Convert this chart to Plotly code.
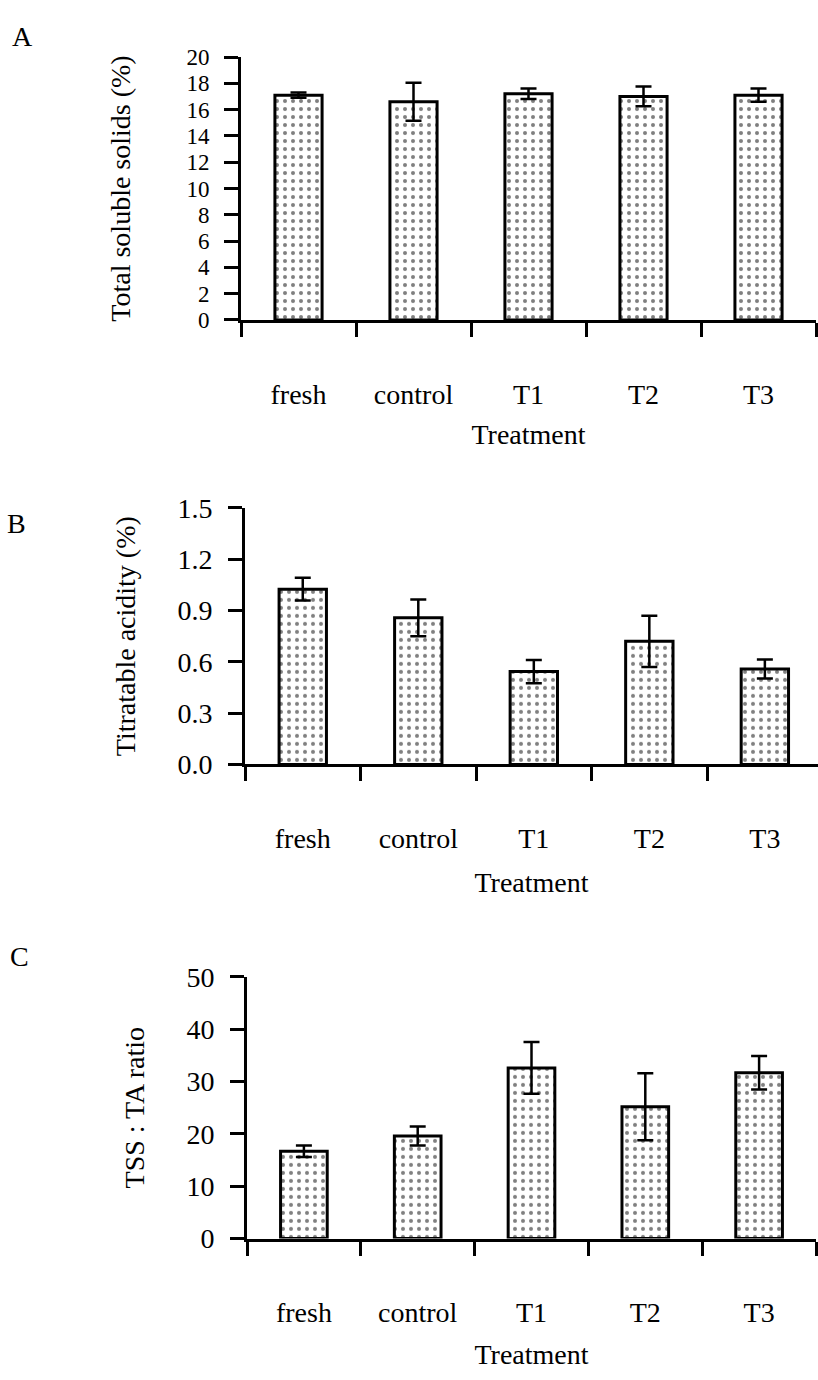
import plotly.graph_objects as go

# Treatments on the x axis
treatments = ["fresh", "control", "T1", "T2", "T3"]

# A: total soluble solids (%)
tss_mean = [17.1, 16.6, 17.2, 17.0, 17.1]
tss_err = [0.2, 1.45, 0.4, 0.75, 0.5]
tss_ticks = [0, 2, 4, 6, 8, 10, 12, 14, 16, 18, 20]

# B: titratable acidity (%)
ta_mean = [1.025, 0.857, 0.543, 0.72, 0.558]
ta_err = [0.066, 0.107, 0.068, 0.15, 0.055]
ta_ticks = [0.0, 0.3, 0.6, 0.9, 1.2, 1.5]

# C: TSS : TA ratio
ratio_mean = [16.7, 19.6, 32.6, 25.2, 31.7]
ratio_err = [1.1, 1.8, 4.95, 6.4, 3.2]
ratio_ticks = [0, 10, 20, 30, 40, 50]

W, H = 818, 1380
FONT = "Liberation Serif, Times New Roman, serif"
FS = 28
TICKLEN = 14

panels = [
    dict(letter="A", mean=tss_mean, err=tss_err, ticks=tss_ticks, fmt="{:d}",
         ylabel="Total soluble solids (%)", xpx=(241, 816), ypx=(312, 43),
         xend=4.5, letter_at=(22, 22), ystand=48, yfs=23, xstand=16),
    dict(letter="B", mean=ta_mean, err=ta_err, ticks=ta_ticks, fmt="{:.1f}",
         ylabel="Titratable acidity (%)", xpx=(245, 818), ypx=(766.7, 504.2),
         xend=4.46, letter_at=(16, 520), ystand=34, yfs=FS, xstand=20),
    dict(letter="C", mean=ratio_mean, err=ratio_err, ticks=ratio_ticks, fmt="{:d}",
         ylabel="TSS : TA ratio", xpx=(247, 816), ypx=(1251.7, 984),
         xend=4.5, letter_at=(19, 963), ystand=34, yfs=FS, xstand=18),
]


def key(kind, n):
    return f"{kind}axis" if n == 1 else f"{kind}axis{n}"


def ref(kind, n):
    return kind if n == 1 else f"{kind}{n}"


fig = go.Figure()
layout = {}
annotations = []
n_cat = len(treatments)
boundaries = [i - 0.5 for i in range(n_cat + 1)]

for i, p in enumerate(panels, start=1):
    j = i + 3  # overlay axes carrying the inner half of each tick
    xdom = [p["xpx"][0] / W, p["xpx"][1] / W]
    ydom = [1 - p["ypx"][0] / H, 1 - p["ypx"][1] / H]
    yrange = [p["ticks"][0], p["ticks"][-1]]
    xrange = [-0.5, p["xend"]]

    fig.add_trace(go.Bar(
        x=treatments, y=p["mean"],
        xaxis=ref("x", i), yaxis=ref("y", i),
        width=0.41,
        marker=dict(
            color="white",
            line=dict(color="black", width=3),
            pattern=dict(shape=".", fgcolor="black", bgcolor="white",
                         size=8, solidity=0.2),
        ),
        error_y=dict(type="data", array=p["err"], visible=True,
                     color="black", thickness=2.5, width=8),
        showlegend=False,
    ))

    layout[key("x", i)] = dict(
        domain=xdom, anchor=ref("y", i), type="category",
        categoryorder="array", categoryarray=treatments, range=xrange,
        showline=True, linewidth=3, linecolor="black",
        ticks="outside", ticklen=TICKLEN, tickwidth=2.5, tickcolor="black",
        tickson="boundaries", ticklabelstandoff=47,
        showgrid=False, zeroline=False,
        tickfont=dict(family=FONT, size=FS, color="black"),
        title=dict(text="Treatment", standoff=p["xstand"],
                   font=dict(family=FONT, size=FS, color="black")),
    )
    layout[key("x", j)] = dict(
        domain=xdom, anchor=ref("y", i), overlaying=ref("x", i),
        range=xrange, tickmode="array", tickvals=boundaries,
        ticks="inside", ticklen=TICKLEN, tickwidth=2.5, tickcolor="black",
        showticklabels=False, showline=False, showgrid=False, zeroline=False,
    )
    layout[key("y", i)] = dict(
        domain=ydom, anchor=ref("x", i), range=yrange,
        tickmode="array", tickvals=p["ticks"],
        ticktext=[p["fmt"].format(t) for t in p["ticks"]],
        showline=True, linewidth=3, linecolor="black",
        ticks="outside", ticklen=TICKLEN, tickwidth=2.5, tickcolor="black",
        ticklabelstandoff=10, showgrid=False, zeroline=False,
        tickfont=dict(family=FONT, size=p["yfs"], color="black"),
        title=dict(text=p["ylabel"], standoff=p["ystand"],
                   font=dict(family=FONT, size=FS, color="black")),
    )
    layout[key("y", j)] = dict(
        domain=ydom, anchor=ref("x", i), overlaying=ref("y", i),
        range=yrange, tickmode="array", tickvals=p["ticks"],
        ticks="inside", ticklen=TICKLEN, tickwidth=2.5, tickcolor="black",
        showticklabels=False, showline=False, showgrid=False, zeroline=False,
    )
    # panel letter
    annotations.append(dict(
        text=p["letter"], xref="paper", yref="paper",
        x=p["letter_at"][0] / W, y=1 - p["letter_at"][1] / H,
        xanchor="center", yanchor="middle", showarrow=False,
        font=dict(family=FONT, size=FS, color="black"),
    ))

fig.update_layout(
    width=W, height=H,
    margin=dict(l=0, r=0, t=0, b=0),
    paper_bgcolor="white", plot_bgcolor="white",
    showlegend=False, bargap=0.59,
    annotations=annotations,
    **layout,
)

fig.write_html("out.html")
